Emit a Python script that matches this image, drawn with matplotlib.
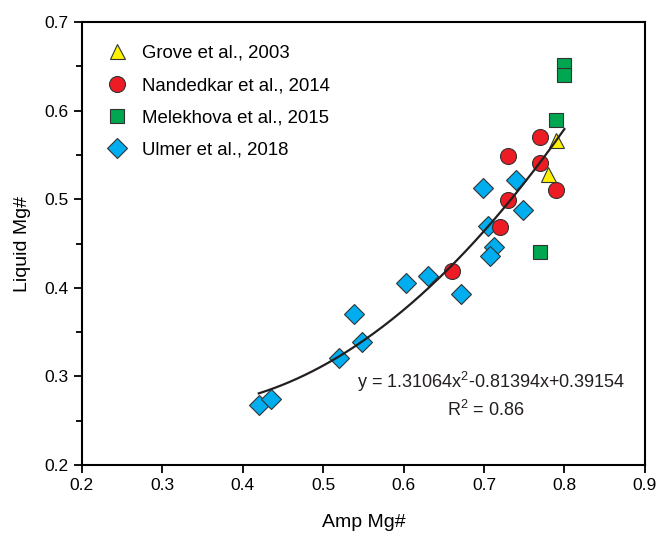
import numpy as np
from matplotlib import pyplot as plt

plt.rcParams['font.family'] = ['Liberation Sans', 'DejaVu Sans']
plt.rcParams['mathtext.fontset'] = 'custom'
plt.rcParams['mathtext.rm'] = 'Liberation Sans'
plt.rcParams['mathtext.it'] = 'Liberation Sans'

# data
grove_x = [0.79, 0.78]
grove_y = [0.567, 0.529]

nand_x = [0.77, 0.73, 0.77, 0.79, 0.73, 0.72, 0.66]
nand_y = [0.570, 0.549, 0.541, 0.510, 0.499, 0.469, 0.419]

mele_x = [0.80, 0.80, 0.79, 0.77]
mele_y = [0.651, 0.640, 0.589, 0.440]

ulmer_x = [0.420, 0.435, 0.520, 0.548, 0.539, 0.603, 0.631, 0.671,
           0.699, 0.705, 0.713, 0.707, 0.740, 0.748]
ulmer_y = [0.268, 0.275, 0.321, 0.339, 0.371, 0.405, 0.413, 0.393,
           0.513, 0.470, 0.446, 0.436, 0.522, 0.488]

# quadratic fit given on the chart
fit_a, fit_b, fit_c = 1.31064, -0.81394, 0.39154
fit_range = (0.42, 0.80)
fit_r2 = 0.86

edge = '#333333'

fig = plt.figure(figsize=(6.6, 5.37), dpi=100)
ax = fig.add_axes([0.124, 0.134, 0.853, 0.825])

ax.plot(ulmer_x, ulmer_y, 'D', ms=9.8, mfc='#00AEEF', mec=edge, mew=0.8,
        ls='none', label='Ulmer et al., 2018', zorder=2)
ax.plot(mele_x, mele_y, 's', ms=9.7, mfc='#00A650', mec=edge, mew=0.8,
        ls='none', label='Melekhova et al., 2015', zorder=3)
ax.plot(nand_x, nand_y, 'o', ms=11.5, mfc='#ED1C24', mec=edge, mew=0.8,
        ls='none', label='Nandedkar et al., 2014', zorder=4)
ax.plot(grove_x, grove_y, '^', ms=10.8, mfc='#FFF200', mec=edge, mew=0.8,
        ls='none', label='Grove et al., 2003', zorder=5)

xf = np.linspace(fit_range[0], fit_range[1], 200)
ax.plot(xf, fit_a * xf**2 + fit_b * xf + fit_c, color='#231F20', lw=1.6, zorder=6)

eq = 'y = %.5fx$^{2}$%.5fx+%.5f' % (fit_a, fit_b, fit_c)
ax.text(0.709, 0.294, eq, fontsize=13, ha='center', va='center',
        color='#231F20')
ax.text(0.702, 0.262, 'R$^{2}$ = %.2f' % fit_r2, fontsize=13,
        ha='center', va='center', color='#231F20')

h, l = ax.get_legend_handles_labels()
ax.legend(h[::-1], l[::-1], loc='upper left', frameon=False, fontsize=13.4,
          labelspacing=0.82, handlelength=1.2, handletextpad=0.7,
          borderaxespad=0.0, bbox_to_anchor=(0.03, 0.965))

ax.set_xlim(0.2, 0.9)
ax.set_ylim(0.2, 0.7)
ax.set_xticks(np.arange(0.2, 0.91, 0.1))
ax.set_yticks(np.arange(0.2, 0.71, 0.1))
ax.set_yticks(np.arange(0.25, 0.7, 0.1), minor=True)
ax.tick_params(which='major', direction='out', length=6, width=1.3,
               labelsize=12.5, top=False, right=False)
ax.tick_params(which='minor', direction='out', length=4, width=1.3)
for s in ax.spines.values():
    s.set_linewidth(1.5)

ax.set_xlabel('Amp Mg#', fontsize=14, labelpad=15)
ax.set_ylabel('Liquid Mg#', fontsize=14, labelpad=10)

fig.savefig('out.png', dpi=100)
